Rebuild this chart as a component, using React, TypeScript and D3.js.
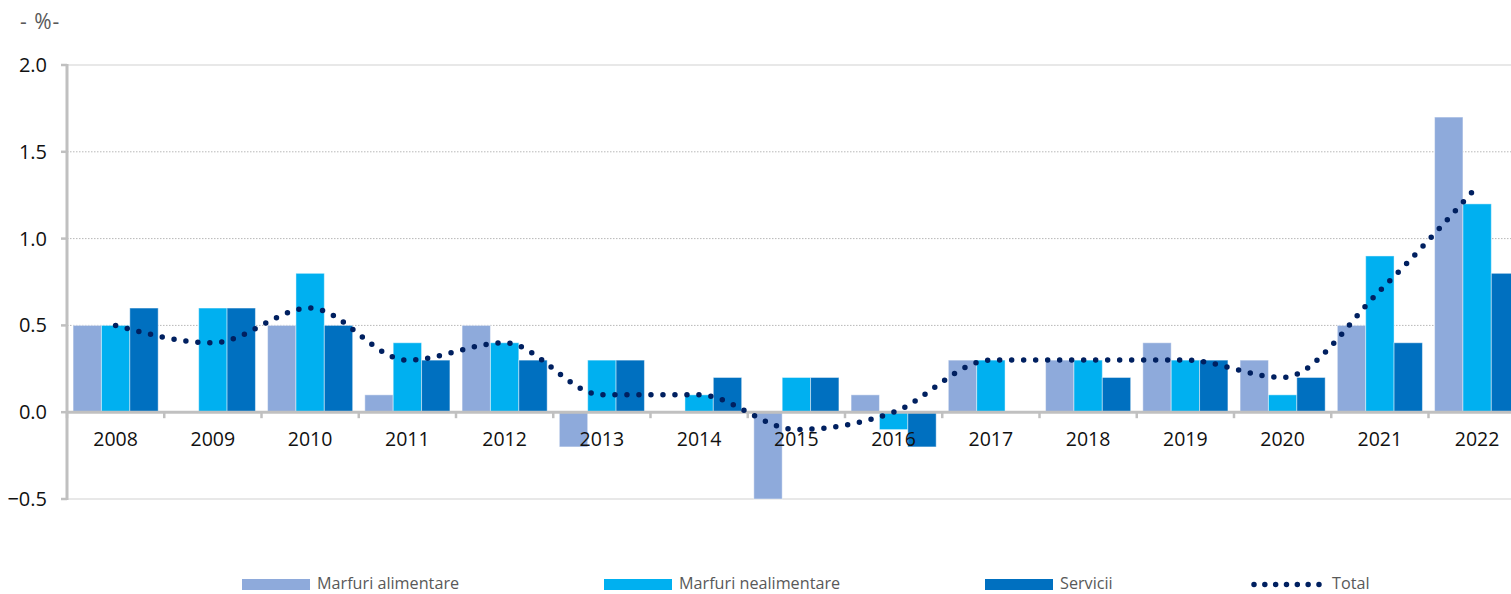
import React from 'react';
import * as d3 from 'd3';

const years = ['2008', '2009', '2010', '2011', '2012', '2013', '2014', '2015', '2016', '2017', '2018', '2019', '2020', '2021', '2022'];
const alimentare = [0.5, 0, 0.5, 0.1, 0.5, -0.2, 0, -0.5, 0.1, 0.3, 0.3, 0.4, 0.3, 0.5, 1.7];
const nealimentare = [0.5, 0.6, 0.8, 0.4, 0.4, 0.3, 0.1, 0.2, -0.1, 0.3, 0.3, 0.3, 0.1, 0.9, 1.2];
const servicii = [0.6, 0.6, 0.5, 0.3, 0.3, 0.3, 0.2, 0.2, -0.2, 0, 0.2, 0.3, 0.2, 0.4, 0.8];
const total = [0.5, 0.4, 0.6, 0.3, 0.4, 0.1, 0.1, -0.1, 0, 0.3, 0.3, 0.3, 0.2, 0.7, 1.3];
const yTicks = [-0.5, 0, 0.5, 1, 1.5, 2];
const seriesNames = ['Marfuri alimentare', 'Marfuri nealimentare', 'Servicii'];
const seriesValues = [alimentare, nealimentare, servicii];
const colors = ['#8eaadb', '#00b0f0', '#0070c0'];
const totalColor = '#002060';

const W = 1511;
const H = 594;
const left = 67;
const step = 97.25;
const font = '"Open Sans", "Noto Sans", sans-serif';

export default function App() {
  const x = d3.scaleBand<string>()
    .domain(years)
    .range([left, left + step * years.length])
    .paddingInner(0.125)
    .paddingOuter(0.0625);
  const xs = d3.scaleBand<number>()
    .domain([0, 1, 2])
    .range([0, x.bandwidth()]);
  const y = d3.scaleLinear().domain([-0.5, 2]).range([499, 65]);

  const line = d3.line<number>()
    .x((_, i) => (x(years[i]) as number) + x.bandwidth() / 2)
    .y(d => y(d))
    .curve(d3.curveMonotoneX);

  // category boundaries for the little tick marks under the zero line
  const bounds = d3.range(years.length + 1).map(i => left + i * x.step());

  const legendItems = [
    { x: 242, label: seriesNames[0], color: colors[0] },
    { x: 604, label: seriesNames[1], color: colors[1] },
    { x: 985, label: seriesNames[2], color: colors[2] },
  ];
  const legY = 583;

  return (
    <svg width={W} height={H} style={{ position: 'absolute', left: 0, top: 0, background: '#fff' }}>
      <text x={20} y={29} fontFamily={font} fontSize={21} letterSpacing={1} fill="#595959">- %-</text>

      {/* grid */}
      {yTicks.map(t => {
        if (t === 0) return null;
        const solid = t === 2 || t === -0.5;
        return (
          <line key={t} x1={left} x2={W} y1={y(t)} y2={y(t)}
            stroke={solid ? '#e8e8e8' : '#b8b8b8'}
            strokeWidth={solid ? 2 : 1}
            strokeDasharray={solid ? undefined : '1.5 1.5'} />
        );
      })}

      {/* bars */}
      {seriesValues.map((vals, s) => (
        <g key={s}>
          {vals.map((v, i) => v === 0 ? null : (
            <rect key={i}
              x={(x(years[i]) as number) + (xs(s) as number)}
              y={y(Math.max(0, v))}
              width={xs.bandwidth()}
              height={Math.abs(y(v) - y(0))}
              fill={colors[s]}
              stroke="#ffffff" strokeOpacity={0.45} strokeWidth={1} />
          ))}
        </g>
      ))}

      {/* axes */}
      <line x1={left} x2={W} y1={y(0)} y2={y(0)} stroke="#c0c0c0" strokeWidth={3} />
      {bounds.map((b, i) => (
        <line key={i} x1={b} x2={b} y1={y(0)} y2={y(0) + 6} stroke="#c0c0c0" strokeWidth={2.5} />
      ))}
      <line x1={left} x2={left} y1={y(2) - 1} y2={y(-0.5) + 1} stroke="#c0c0c0" strokeWidth={3} />
      {yTicks.map(t => (
        <g key={t}>
          <line x1={left - 6} x2={left} y1={y(t)} y2={y(t)} stroke="#c0c0c0" strokeWidth={2.5} />
          <text x={47} y={y(t)} dy="0.35em" textAnchor="end" fontFamily={font} fontSize={20} fill="#111">
            {d3.format('.1f')(t)}
          </text>
        </g>
      ))}
      {years.map(yr => (
        <text key={yr} x={(x(yr) as number) + x.bandwidth() / 2} y={446}
          textAnchor="middle" fontFamily={font} fontSize={19.5} fill="#111">{yr}</text>
      ))}

      {/* total */}
      <path d={line(total) || ''} fill="none" stroke={totalColor} strokeWidth={5.5}
        strokeLinecap="round" strokeDasharray="0 12" />

      {/* legend */}
      {legendItems.map(it => (
        <g key={it.label}>
          <rect x={it.x} y={legY - 4} width={68} height={11} fill={it.color} />
          <text x={it.x + 75} y={legY} dy="0.35em" fontFamily={font} fontSize={16.2} fill="#595959">{it.label}</text>
        </g>
      ))}
      <line x1={1254} x2={1319} y1={legY + 1.5} y2={legY + 1.5} stroke={totalColor} strokeWidth={5.5}
        strokeLinecap="round" strokeDasharray="0 10.83" />
      <text x={1332} y={legY} dy="0.35em" fontFamily={font} fontSize={16.2} fill="#595959">Total</text>
    </svg>
  );
}
